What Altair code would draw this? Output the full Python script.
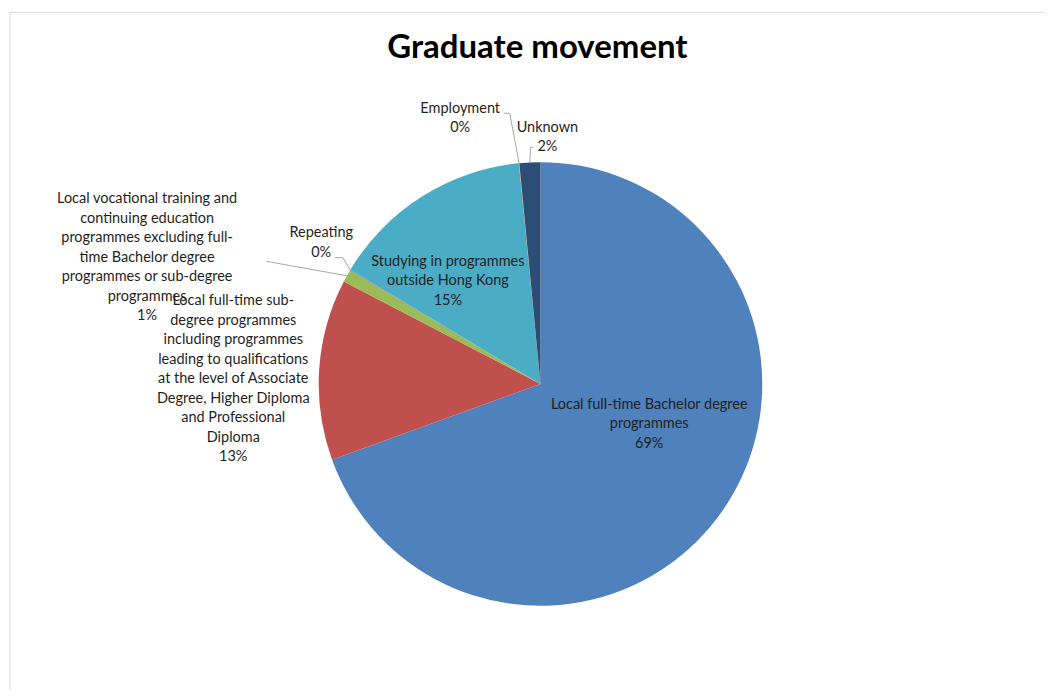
import math
import altair as alt
import pandas as pd

# ---------------- data ----------------
categories = [
    "Local full-time Bachelor degree programmes",
    "Local full-time sub-degree programmes including programmes leading to qualifications at the level of Associate Degree, Higher Diploma and Professional Diploma",
    "Local vocational training and continuing education programmes excluding full-time Bachelor degree programmes or sub-degree programmes",
    "Repeating",
    "Studying in programmes outside Hong Kong",
    "Employment",
    "Unknown",
]
values = [69.45, 13.2, 0.92, 0.03, 14.85, 0.03, 1.52]
pct_labels = ["69%", "13%", "1%", "0%", "15%", "0%", "2%"]
colors = ["#4F81BD", "#C0504D", "#9BBB59", "#8064A2", "#4BACC6", "#F79646", "#2C4D75"]
label_lines = [
    ["Local full-time Bachelor degree", "programmes"],
    ["Local full-time sub-", "degree programmes", "including programmes", "leading to qualifications",
     "at the level of Associate", "Degree, Higher Diploma", "and Professional", "Diploma"],
    ["Local vocational training and", "continuing education", "programmes excluding full-",
     "time Bachelor degree", "programmes or sub-degree", "programmes"],
    ["Repeating"],
    ["Studying in programmes", "outside Hong Kong"],
    ["Employment"],
    ["Unknown"],
]
title_text = "Graduate movement"

# ---------------- layout ----------------
W, H = 1038, 682
CX, CY, R = 533, 376, 222
LH = 19.5
label_off = [(-73, -87), (-86, 10), (-200, -18), (-29, -27), (26, 85), (-59, -45), (17.5, -25)]
leader_off = [None, None,
              [(-80, -14.4)],
              [(-7.3, -12.4), (-15.3, -12.4)],
              None,
              [(-9.4, -50), (-15.4, -50)],
              [(0.5, -15.2), (3.5, -15.2)]]
FONT = "Lato"
TEXT_COLOR = "#1F1F1F"

total = sum(values)
rows, lab_rows, lead_rows = [], [], []
cum = 0.0
for i, (cat, v) in enumerate(zip(categories, values)):
    mid = (cum + v / 2) / total * 2 * math.pi
    cum += v
    rx = CX + R * math.sin(mid)
    ry = CY - R * math.cos(mid)
    rows.append({"idx": i, "category": cat, "value": v})
    lines = label_lines[i] + [pct_labels[i]]
    lx, ly = rx + label_off[i][0], ry + label_off[i][1]
    ly -= (len(lines) - 1) * LH / 2  # first line position so the block is centred
    lab_rows.append({"idx": i, "x": lx, "y": ly, "text": "\n".join(lines)})
    if leader_off[i]:
        pts = [(rx, ry)] + [(rx + dx, ry + dy) for dx, dy in leader_off[i]]
        for k, (px, py) in enumerate(pts):
            lead_rows.append({"idx": i, "k": k, "x": px, "y": py})

df = pd.DataFrame(rows)
df_lab = pd.DataFrame(lab_rows)
df_lead = pd.DataFrame(lead_rows)

pie = alt.Chart(df).mark_arc(outerRadius=R).encode(
    theta=alt.Theta("value:Q", stack=True),
    order=alt.Order("idx:Q"),
    color=alt.Color("category:N", scale=alt.Scale(domain=categories, range=colors), legend=None),
    x=alt.value(CX),
    y=alt.value(CY),
)

leaders = alt.Chart(df_lead).mark_line(color="#A6A6A6", strokeWidth=1).encode(
    x=alt.X("x:Q", scale=None, axis=None),
    y=alt.Y("y:Q", scale=None, axis=None),
    detail="idx:N",
    order="k:Q",
)

labels = alt.Chart(df_lab).mark_text(
    font=FONT, fontSize=14.5, lineBreak="\n", lineHeight=LH,
    align="center", baseline="middle", color=TEXT_COLOR,
).encode(
    x=alt.X("x:Q", scale=None, axis=None),
    y=alt.Y("y:Q", scale=None, axis=None),
    text="text:N",
)

title = alt.Chart(pd.DataFrame({"t": [title_text]})).mark_text(
    font=FONT, fontSize=33, fontWeight="bold", color="#000000", align="center", baseline="middle",
).encode(x=alt.value(530), y=alt.value(40), text="t:N")

border = alt.Chart(pd.DataFrame({"a": [0]})).mark_rule(color="#D9D9D9", strokeWidth=1).encode(
    x=alt.value(2), y=alt.value(4), y2=alt.value(H)
)
border2 = alt.Chart(pd.DataFrame({"a": [0]})).mark_rule(color="#D9D9D9", strokeWidth=1).encode(
    x=alt.value(2), x2=alt.value(W), y=alt.value(4)
)

chart = alt.layer(border, border2, pie, leaders, labels, title).properties(
    width=W, height=H, padding=0, background="#FFFFFF"
).configure_view(stroke=None)

chart.save("out.html", embed_options={"renderer": "svg", "actions": False})
